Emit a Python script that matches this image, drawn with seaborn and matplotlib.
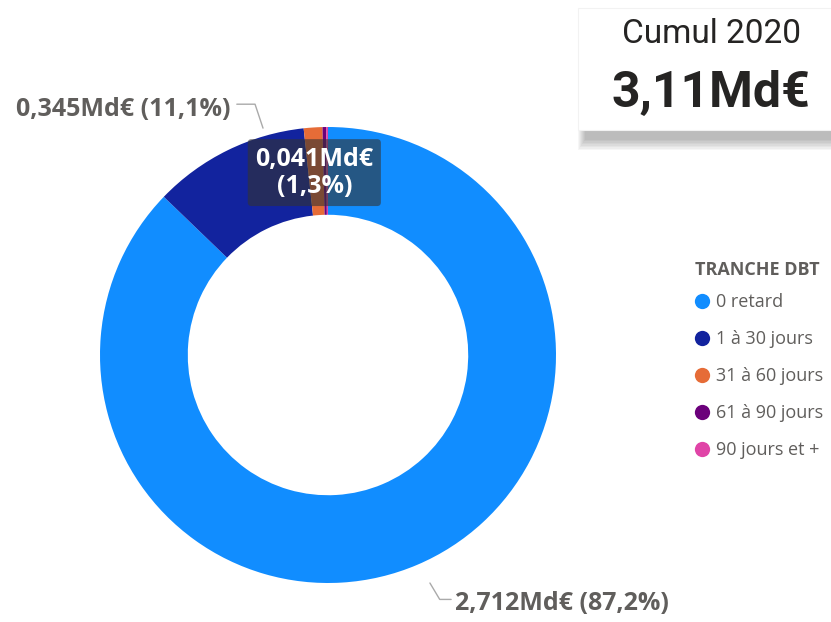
import matplotlib
matplotlib.use("Agg")
import matplotlib.pyplot as plt
import seaborn as sns
import numpy as np
from matplotlib.lines import Line2D
from matplotlib.patches import Rectangle

# data
tranches = ["0 retard", "1 à 30 jours", "31 à 60 jours", "61 à 90 jours", "90 jours et +"]
montants = [2.712, 0.345, 0.041, 0.008, 0.004]   # Md€
couleurs = ["#118DFF", "#12239E", "#E66C37", "#6B007B", "#E044A7"]
total_label = "3,11Md€"
card_title = "Cumul 2020"

sns.set_theme(style="white")
plt.rcParams["font.family"] = ["Open Sans", "DejaVu Sans"]

fig = plt.figure(figsize=(8.31, 6.22), dpi=100)
W, H = 831, 622

# donut axes: centre ~(328,355) px, radius ~228 px
cx, cy, r = 328, 355, 228
ax = fig.add_axes([(cx - r) / W, (H - cy - r) / H, 2 * r / W, 2 * r / H])
wedges, _ = ax.pie(montants, colors=sns.color_palette(couleurs), startangle=90,
                   counterclock=False, radius=1,
                   wedgeprops=dict(width=0.385, edgecolor="none"))
ax.set_xlim(-1, 1)
ax.set_ylim(-1, 1)
ax.set_aspect("equal")
ax.axis("off")

total = sum(montants)
def fmt(v):
    return f"{v:.3f}".replace(".", ",") + "Md€"
def pct(v):
    return f"{100 * v / total:.1f}".replace(".", ",") + "%"

grey = "#605E5C"
lab_kw = dict(fontsize=18, fontweight="bold", color=grey)

# label 0 retard (bottom right)
ax.plot([0.447, 0.49, 0.54], [-1.0, -1.072, -1.072], color="#aaaaaa", lw=1, clip_on=False)
ax.text(0.555, -1.09, f"{fmt(montants[0])} ({pct(montants[0])})", ha="left", va="center", **lab_kw)

# label 1 à 30 jours (top left)
ax.plot([-0.285, -0.32, -0.40], [0.995, 1.1, 1.1], color="#aaaaaa", lw=1, clip_on=False)
ax.text(-0.428, 1.075, f"{fmt(montants[1])} ({pct(montants[1])})", ha="right", va="center", **lab_kw)

# label 31 à 60 jours (inside, dark box)
ax.text(-0.06, 0.80, f"{fmt(montants[2])}\n({pct(montants[2])})", ha="center", va="center",
        fontsize=18, fontweight="bold", color="white", linespacing=1.1,
        bbox=dict(boxstyle="round,pad=0.3,rounding_size=0.15", facecolor="#333333",
                  alpha=0.6, edgecolor="none"))

# legend
fig.text(695 / W, 1 - 270 / H, "TRANCHE DBT", ha="left", va="center", fontsize=13,
         fontweight="bold", color=grey)
handles = [Line2D([0], [0], marker="o", linestyle="none", markersize=11,
                  markerfacecolor=c, markeredgecolor="none") for c in couleurs]
leg = fig.legend(handles, tranches, loc="upper left", bbox_to_anchor=(693 / W, 1 - 293 / H),
                 frameon=False, fontsize=13, labelspacing=1.05,
                 handletextpad=0.25, handlelength=1.0, borderaxespad=0, borderpad=0)
for t in leg.get_texts():
    t.set_color(grey)

# card top right with shadow
for i in range(8):
    fig.patches.append(Rectangle(((580 - 2 + i) / W, (H - 150 + i * 1.5) / H), (260) / W, 20 / H,
                                 transform=fig.transFigure, facecolor="#000000",
                                 alpha=0.035, edgecolor="none", zorder=1))
fig.patches.append(Rectangle((578 / W, (H - 130) / H), 260 / W, 122 / H,
                             transform=fig.transFigure, facecolor="white",
                             edgecolor="#f2f2f2", lw=0.8, zorder=2))
fig.text(711 / W, 1 - 34 / H, card_title, ha="center", va="center", fontsize=24,
         color="#252423", family=["Roboto", "DejaVu Sans"], zorder=3)
fig.text(711 / W, 1 - 94 / H, total_label, ha="center", va="center", fontsize=36,
         fontweight="bold", color="#252423", family=["Roboto", "DejaVu Sans"], zorder=3)

fig.savefig("out.png", dpi=100)
